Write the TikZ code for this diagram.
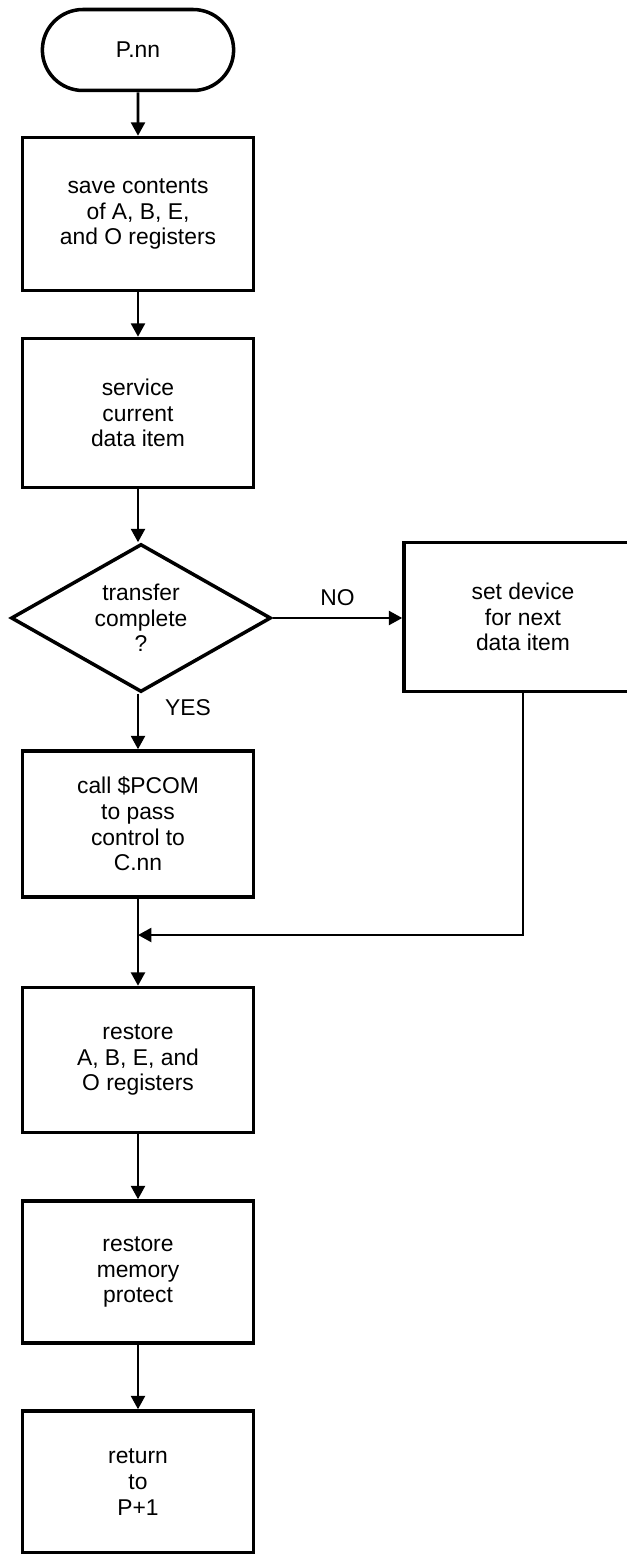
\documentclass[tikz,border=0pt]{standalone}
\usepackage{fontspec}
\setmainfont{Liberation Sans}
\usepackage{tikz}
\usetikzlibrary{arrows.meta,shapes.geometric,shapes.misc}

\tikzset{
    block/.style={draw, line width=2pt, rectangle, align=center,
        minimum width=4.62cm, minimum height=2.95cm, inner sep=0pt},
    term/.style={draw, line width=2pt, rounded rectangle, align=center,
        minimum width=4.06cm, minimum height=1.62cm},
    decision/.style={draw, line width=2pt, diamond, aspect=1.8, align=center,
        minimum width=5.2cm, minimum height=2.96cm, inner sep=0pt},
    flow/.style={line width=1.5pt, -{Triangle[length=0.27cm,width=0.28cm]}}
}

\begin{document}
\begin{tikzpicture}[x=0.02cm,y=-0.02cm,font=\fontsize{13}{14.6}\selectfont]
    \useasboundingbox (0,0) rectangle (626,1554);

    \node[term] (start) at (138,50) {P.nn};
    \node[block, minimum height=3.06cm] (save) at (138,214) {save contents\\of A, B, E,\\and O registers};
    \node[block, minimum height=2.98cm] (serv) at (138,413) {service\\current\\data item};
    \node[decision] (test) at (141,618) {transfer\\complete\\?};
    \node[block, minimum width=4.76cm, minimum height=2.98cm] (dev) at (523,617) {set device\\for next\\data item};
    \node[block, minimum height=2.92cm] (pcom) at (138,824) {call \$PCOM\\to pass\\control to\\C.nn};
    \node[block, minimum height=2.9cm] (regs) at (138,1060) {restore\\A, B, E, and\\O registers};
    \node[block, minimum height=2.84cm] (mprot) at (138,1272) {restore\\memory\\protect};
    \node[block, minimum height=2.84cm] (ret) at (138,1482) {return\\to\\P+1};

    \coordinate (join) at (138,935);

    \draw[flow] (start) -- (save);
    \draw[flow] (save) -- (serv);
    \draw[flow] (serv) -- (test.north -| serv.south);
    \draw[flow] (test.south -| pcom.north) -- node[right=0.4cm, pos=0.25] {YES} (pcom);
    \draw[flow] (test.east) -- node[above=0.1cm] {NO} (test.east -| dev.west);
    \draw[line width=1.5pt] (pcom) -- (join);
    \draw[flow] (join) -- (regs);
    \draw[flow] (dev.south) |- (join);
    \draw[flow] (regs) -- (mprot);
    \draw[flow] (mprot) -- (ret);
\end{tikzpicture}
\end{document}
